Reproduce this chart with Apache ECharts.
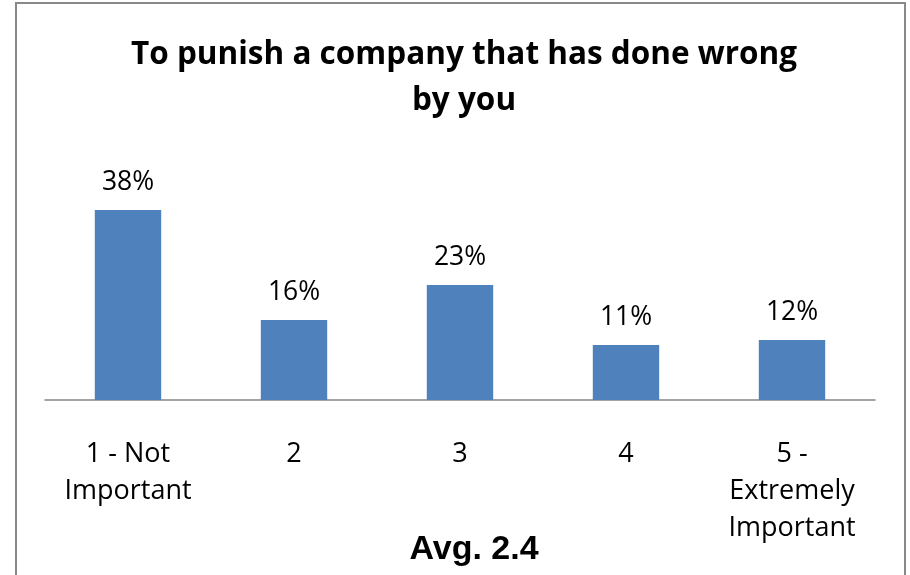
<!DOCTYPE html>
<html><head><meta charset="utf-8">
<script src="https://cdn.jsdelivr.net/npm/echarts@6/dist/echarts.min.js"></script>
<style>html,body{margin:0;padding:0;background:#fff}#c{width:910px;height:575px}</style>
</head><body><div id="c"></div>
<script>
var titleText = "To punish a company that has done wrong\nby you";
var categories = ["1 - Not\nImportant", "2", "3", "4", "5 -\nExtremely\nImportant"];
var values = [38, 16, 23, 11, 12];
var footnote = "Avg. 2.4";

var chart = echarts.init(document.getElementById('c'), null, {renderer: 'canvas'});
chart.setOption({
  backgroundColor: '#ffffff',
  animation: false,
  title: [{
    text: titleText,
    left: 459, top: 27, textAlign: 'center',
    textStyle: {fontFamily: 'Open Sans', fontWeight: 'bold', fontSize: 31.5, lineHeight: 46, color: '#000'}
  }, {
    text: footnote,
    left: 469, top: 528, textAlign: 'center',
    textStyle: {fontFamily: 'Liberation Sans', fontWeight: 'bold', fontSize: 34, color: '#000'}
  }],
  graphic: [{
    type: 'rect', shape: {x: 16, y: 3, width: 889, height: 600},
    style: {fill: 'none', stroke: '#898989', lineWidth: 2}, silent: true
  }],
  grid: {left: 45, right: 35, top: 200, bottom: 175},
  xAxis: {
    type: 'category', data: categories,
    axisLine: {lineStyle: {color: '#868686', width: 1.5}},
    axisTick: {show: false},
    axisLabel: {fontFamily: 'Open Sans', fontSize: 27, color: '#000', lineHeight: 37, margin: 36, interval: 0}
  },
  yAxis: {type: 'value', min: 0, max: 40, show: false, splitLine: {show: false}},
  series: [{
    type: 'bar', data: values, barCategoryGap: '60%',
    itemStyle: {color: '#4F81BD'},
    label: {show: true, position: 'top', distance: 14, formatter: '{c}%',
      fontFamily: 'Open Sans', fontSize: 26.5, color: '#000'}
  }]
});
</script></body></html>
